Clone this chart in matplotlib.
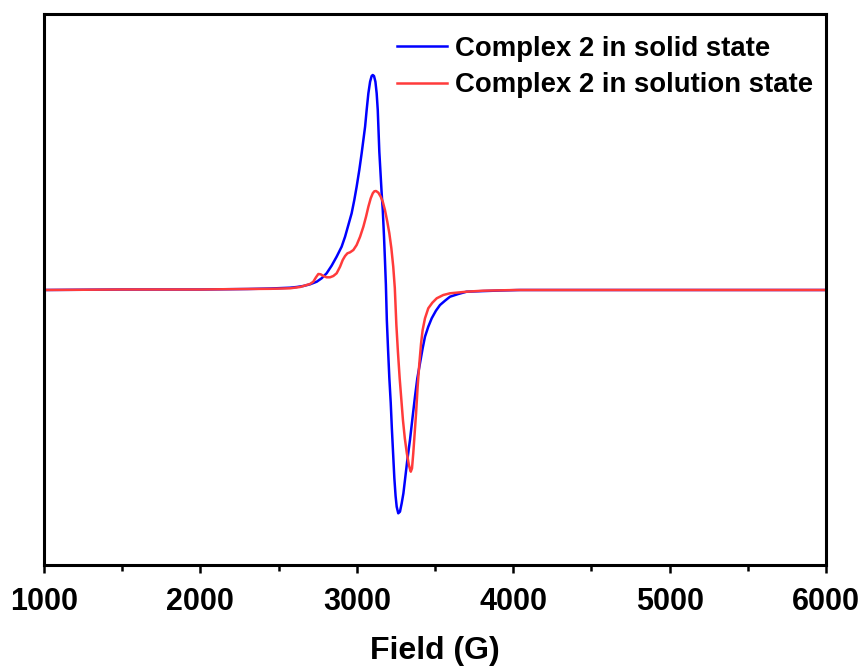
import matplotlib
matplotlib.use('Agg')
import matplotlib.pyplot as plt
from matplotlib.ticker import MultipleLocator

# EPR spectra (field in G, intensity in arbitrary units)
solid_field = [1000, 1500, 2000, 2300, 2450, 2573, 2616, 2658, 2701, 2744, 2775, 2807,
               2839, 2871, 2903, 2925, 2946, 2967, 2984, 2999, 3016, 3031, 3042, 3053,
               3063, 3074, 3085, 3095, 3102, 3110, 3119, 3127, 3134, 3138, 3144, 3153,
               3159, 3166, 3174, 3180, 3186,
               3192, 3200, 3208, 3217, 3224, 3232, 3240, 3248, 3255, 3265, 3276, 3287,
               3298, 3308, 3323, 3340, 3357, 3372, 3387, 3404, 3421, 3436, 3457, 3479,
               3506, 3532, 3564, 3596, 3649, 3702, 3788, 3916, 4044, 5000, 6000]
solid_int = [0, 0.5, 0.5, 1, 1.5, 2.3, 3, 4, 5.7, 8.3, 11.7, 16.7,
             24.3, 33.3, 43.3, 53.3, 65, 76.7, 90, 103.3, 120, 136.7, 150, 163.3,
             180, 196.7, 208.3, 214, 215, 214, 208.3, 196.7, 180, 163.3, 138.3, 113.3,
             96.7, 80, 53.3, 30, 5,
             -30, -60, -88, -113, -138, -163, -188, -206, -216.7, -223.3, -221.7, -213.3,
             -203.3, -190, -170, -150, -126.7, -106.7, -88.3, -73.3, -58.3, -46.7, -36.7, -28.3,
             -20.7, -15, -10.7, -6.7, -4, -1.7, -1.2, -0.5, 0, 0, 0]

solution_field = [1000, 1500, 2000, 2300, 2450, 2573, 2637, 2701, 2722, 2739, 2754, 2769,
                  2786, 2807, 2829, 2850, 2871, 2893, 2910, 2925, 2940, 2957, 2978, 2999,
                  3021, 3042, 3059, 3074, 3089, 3102, 3112, 3123, 3138, 3153, 3166, 3180,
                  3195, 3208, 3221, 3233, 3243,
                  3253, 3263, 3274, 3285, 3295, 3307, 3320, 3333, 3345, 3353, 3361, 3370,
                  3379, 3389, 3400, 3411, 3421, 3436, 3457, 3483, 3511, 3553, 3596, 3702,
                  3807, 4023, 5000, 6000]
solution_int = [0, 0.5, 0.5, 1, 1.2, 1.7, 3, 6, 8.3, 12.7, 16, 15.7,
                14, 12.7, 12.7, 14, 16.7, 23.3, 30, 34, 36.7, 37.7, 40, 45,
                53.3, 63.3, 73.3, 83.3, 91.7, 96.7, 98.7, 99, 97.3, 93.3, 88.3, 80,
                68.3, 56.7, 41.7, 23.3, 2,
                -35, -62, -88, -110, -130, -148.3, -163.3, -175, -181.7, -178.3, -163.3, -143.3,
                -123.3, -96.7, -73.3, -53.3, -40, -28.3, -18.3, -12.7, -8.3, -5, -3.3, -1.7,
                -0.7, 0, 0, 0]

labels = ['Complex 2 in solid state', 'Complex 2 in solution state']
colors = ['#0000FF', '#FF3B3B']

plt.rcParams['font.family'] = ['Liberation Sans', 'DejaVu Sans']
plt.rcParams['font.weight'] = 'bold'

fig = plt.figure(figsize=(8.67, 6.69), dpi=100)
ax = fig.add_axes([44 / 867, 1 - 564.5 / 669, 782 / 867, 550.5 / 669])

ax.plot(solid_field, solid_int, color=colors[0], lw=1.8, label=labels[0])
ax.plot(solution_field, solution_int, color=colors[1], lw=1.8, label=labels[1])

ax.set_xlim(1000, 6000)
ax.set_ylim(-274.5, 276)
ax.xaxis.set_major_locator(MultipleLocator(1000))
ax.xaxis.set_minor_locator(MultipleLocator(500))
ax.set_yticks([])
ax.tick_params(axis='x', which='major', direction='out', length=6, width=1.8,
               labelsize=22, pad=10)
ax.tick_params(axis='x', which='minor', direction='out', length=4, width=1.8)
for lab in ax.get_xticklabels():
    lab.set_fontweight('bold')
for sp in ax.spines.values():
    sp.set_linewidth(2.2)

ax.set_xlabel('Field (G)', fontsize=23, fontweight='bold', labelpad=14)

ax.legend(loc='upper left', bbox_to_anchor=(0.4514, 0.960), frameon=False,
          borderpad=0, borderaxespad=0, handlelength=1.82, handletextpad=0.3,
          labelspacing=0.37, prop={'size': 19.8, 'weight': 'bold'})

fig.savefig('out.png', dpi=100)
